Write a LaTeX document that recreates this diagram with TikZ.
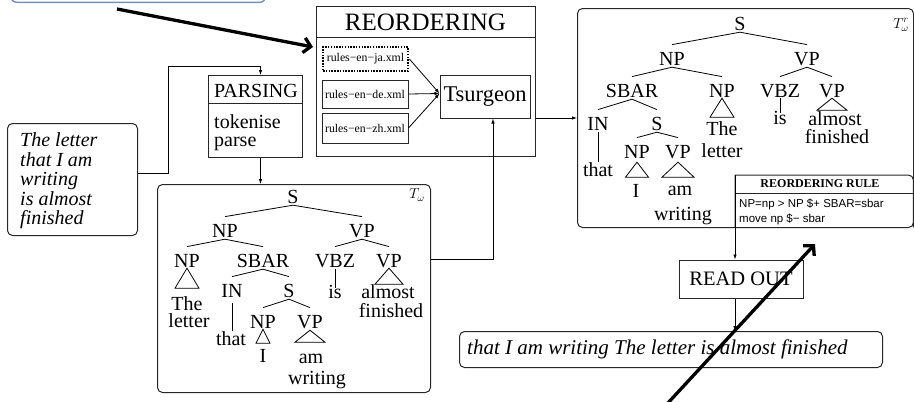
\documentclass[tikz,border=0pt]{standalone}
\usepackage{fontspec}
\setmainfont{Liberation Serif}
\newfontfamily\rulesans{Liberation Sans}
\usetikzlibrary{arrows.meta,calc}

\definecolor{calloutblue}{RGB}{112,146,190}

% branch from a parent category down to a child category
\newcommand\branch[2]{\draw[treeline] ([yshift=-2pt]#1.south) -- ([yshift=7pt]#2.north);}
% roof (triangle) under a category: node, gap below baseline, half width, height
\newcommand\roof[4]{\draw[treeline] ($(#1.south)+(0,#2)$) -- ++(-#3,#4) -- ++(2*#3,0) -- cycle;}

\begin{document}
\begin{tikzpicture}[x=1pt,y=-1pt,
  box/.style={draw=black!85, line width=1pt, inner sep=0pt},
  rbox/.style={box, rounded corners=5pt},
  cat/.style={font=\fontsize{20}{20}\selectfont, inner sep=0pt, text height=13.2pt, text depth=0pt, anchor=base},
  leaf/.style={font=\fontsize{20}{20}\selectfont, inner sep=0pt, anchor=base},
  treeline/.style={line width=0.8pt},
  link/.style={line width=0.8pt, -{Latex[length=5pt,width=3.5pt]}},
  pointer/.style={line width=3.3pt, -{Straight Barb[length=7pt,width=15pt]}},
]
\useasboundingbox (0,0) rectangle (914,402);
\begin{scope}
\clip (0,0) rectangle (914,402);

% callout frame running off the top edge
\node[draw=calloutblue, line width=1.4pt, rounded corners=6pt, minimum width=255pt,
      minimum height=30pt, anchor=south west, inner sep=0pt] (callout) at (10,3) {};

% ---------------- input sentence ----------------
\node[rbox, minimum width=130pt, minimum height=112pt, anchor=north west] (inbox) at (7,123) {};
\foreach \t [count=\i] in {The letter,that I am,writing,is almost,finished}{
  \node[font=\fontsize{20}{20}\selectfont\itshape, inner sep=0pt, anchor=base west]
    (inl\i) at (20,{127+19.5*\i}) {\t};
}

% ---------------- parsing ----------------
\node[box, minimum width=94pt, minimum height=82pt, anchor=north west] (parsing) at (208,75) {};
\draw[box] ($(parsing.north west)+(0,28)$) -- ($(parsing.north east)+(0,28)$);
\node[font=\fontsize{20}{20}\selectfont, inner sep=0pt] (parstitle) at (256,90.5) {PARSING};
\node[leaf, anchor=base west] (tok) at (214,128) {tokenise};
\node[leaf, anchor=base west] (prs) at (214,146) {parse};

% ---------------- reordering ----------------
\node[box, minimum width=219pt, minimum height=150pt, anchor=north west] (reord) at (316,6) {};
\draw[box] ($(reord.north west)+(0,31)$) -- ($(reord.north east)+(0,31)$);
\node[font=\fontsize{25}{25}\selectfont, inner sep=0pt] (reordtitle) at (425.5,22) {REORDERING};

\node[draw, line width=2.8pt, dash pattern=on 1.5pt off 1.3pt, minimum width=85pt, minimum height=24pt,
      inner sep=0pt, font=\fontsize{11.8}{12}\selectfont] (ja) at (365.5,59) {rules−en−ja.xml};
\node[box, minimum width=86pt, minimum height=28pt, font=\fontsize{11.8}{12}\selectfont] (de) at (365,94) {rules−en−de.xml};
\node[box, minimum width=86pt, minimum height=30pt, font=\fontsize{11.8}{12}\selectfont] (zh) at (365,128) {rules−en−zh.xml};

\node[box, minimum width=90pt, minimum height=43pt, font=\fontsize{22.5}{23}\selectfont] (ts) at (485,96.5) {Tsurgeon};

\draw[link] (ja.east) -- ([yshift=3pt]ts.west);
\draw[link] (de.east) -- ([yshift=3pt]ts.west);
\draw[link] (zh.east) -- ([yshift=3pt]ts.west);

% ---------------- parsed tree ----------------
\node[rbox, minimum width=273pt, minimum height=208pt, anchor=north west] (tw) at (157,184) {};
\node[font=\fontsize{14}{14}\selectfont, inner sep=0pt] (twlabel) at (417,195) {$T_{\omega}$};

\node[cat] (a-s) at (293,203) {S};
\node[cat] (a-np) at (225,237) {NP};
\node[cat] (a-vp) at (362,237) {VP};
\node[cat] (a-np2) at (187,267) {NP};
\node[cat] (a-sbar) at (263,267) {SBAR};
\node[cat] (a-vbz) at (335,267) {VBZ};
\node[cat] (a-vp2) at (389,267) {VP};
\node[cat] (a-in) at (232,297) {IN};
\node[cat] (a-s2) at (289,297) {S};
\node[cat] (a-np3) at (263,328) {NP};
\node[cat] (a-vp3) at (310,328) {VP};

\node[leaf] (a-the) at (187,310) {The};
\node[leaf] (a-letter) at (189,327) {letter};
\node[leaf] (a-that) at (231,345) {that};
\node[leaf] (a-i) at (263,362) {I};
\node[leaf] (a-am) at (311,363) {am};
\node[leaf] (a-writing) at (317,384) {writing};
\node[leaf] (a-is) at (335,298) {is};
\node[leaf] (a-almost) at (388,298) {almost};
\node[leaf] (a-finished) at (391,317) {finished};

\branch{a-s}{a-np}
\branch{a-s}{a-vp}
\branch{a-np}{a-np2}
\branch{a-np}{a-sbar}
\branch{a-vp}{a-vbz}
\branch{a-vp}{a-vp2}
\branch{a-sbar}{a-in}
\branch{a-sbar}{a-s2}
\branch{a-s2}{a-np3}
\branch{a-s2}{a-vp3}
\roof{a-np2}{1}{12}{20}
\roof{a-np3}{1}{7}{14}
\roof{a-vp3}{2}{15}{12}
\roof{a-vp2}{1}{14}{16}
\draw[treeline] ($(a-in.south)+(0,6)$) -- ($(a-that.north)+(1,0)$);
\draw[treeline] ($(a-vbz.south)+(0,2)$) -- ($(a-is.north)+(0,3)$);

% ---------------- reordered tree ----------------
\node[rbox, minimum width=336pt, minimum height=219pt, anchor=north west] (tr) at (577,8) {};
\node[font=\fontsize{14}{14}\selectfont, inner sep=0pt] (trlabel) at (901,25) {$T^{r}_{\omega}$};

\node[cat] (b-s) at (740,30) {S};
\node[cat] (b-np) at (672,65) {NP};
\node[cat] (b-vp) at (807,65) {VP};
\node[cat] (b-sbar) at (632,97) {SBAR};
\node[cat] (b-np2) at (722,97) {NP};
\node[cat] (b-vbz) at (780,97) {VBZ};
\node[cat] (b-vp2) at (832,97) {VP};
\node[cat] (b-in) at (598,130) {IN};
\node[cat] (b-s2) at (657,130) {S};
\node[cat] (b-np3) at (637,158) {NP};
\node[cat] (b-vp3) at (678,158) {VP};

\node[leaf] (b-that) at (598,176) {that};
\node[leaf] (b-i) at (636,197) {I};
\node[leaf] (b-am) at (680,195) {am};
\node[leaf] (b-writing) at (683,220) {writing};
\node[leaf] (b-the) at (722,135) {The};
\node[leaf] (b-letter) at (722,157) {letter};
\node[leaf] (b-is) at (780,124) {is};
\node[leaf] (b-almost) at (835,125) {almost};
\node[leaf] (b-finished) at (837,143) {finished};

\branch{b-s}{b-np}
\branch{b-s}{b-vp}
\branch{b-np}{b-sbar}
\branch{b-np}{b-np2}
\branch{b-vp}{b-vbz}
\branch{b-vp}{b-vp2}
\branch{b-sbar}{b-in}
\branch{b-sbar}{b-s2}
\branch{b-s2}{b-np3}
\branch{b-s2}{b-vp3}
\roof{b-np3}{4}{11.5}{15}
\roof{b-vp3}{4}{16}{15}
\roof{b-np2}{1}{12}{19}
\roof{b-vp2}{1}{15}{12}
\draw[treeline] ($(b-in.south)+(0,2)$) -- ($(b-that.north)+(0,0)$);
\draw[treeline] ($(b-vbz.south)+(0,1)$) -- ($(b-is.north)+(0,2)$);

% ---------------- reordering rule ----------------
\node[minimum width=178pt, minimum height=52pt, anchor=north west, inner sep=0pt] (rule) at (735,175) {};
\draw[box] (rule.south west) -- (rule.north west) [rounded corners=5pt] -- (rule.north east) -- (rule.south east);
\draw[box] ($(rule.north west)+(0,18)$) -- ($(rule.north east)+(0,18)$);
\node[font=\fontsize{12}{12}\selectfont\bfseries, inner sep=0pt] (ruletitle) at (820,184) {REORDERING RULE};
\node[font=\rulesans\fontsize{11.5}{12}\selectfont, inner sep=0pt, anchor=base west] (rule1) at (739,207) {NP=np > NP \$+ SBAR=sbar};
\node[font=\rulesans\fontsize{11.5}{12}\selectfont, inner sep=0pt, anchor=base west] (rule2) at (739,222) {move np \$− sbar};

% ---------------- read out ----------------
\node[box, minimum width=124pt, minimum height=38pt, font=\fontsize{20.5}{21}\selectfont] (readout) at (741,279) {READ OUT};
\node[rbox, minimum width=423pt, minimum height=36pt, anchor=north west] (sent) at (459,331) {};
\node[font=\fontsize{21}{21}\selectfont\itshape, inner sep=0pt, anchor=base west] (senttext) at (467,354)
  {that I am writing The letter is almost finished};

% ---------------- connectors ----------------
\coordinate (pin) at ($(parsing.north)+(5,0)$);
\coordinate (pout) at ($(parsing.south)+(5,0)$);
\coordinate (twout) at ($(tw.east)+(0,-29)$);
\coordinate (tsin) at ($(ts.south)+(8,0)$);
\coordinate (inout) at ($(inbox.east)+(0,-6)$);
\draw[link] (inout) -| (168,66) -| (pin);
\draw[link] (pout) -- (pout |- tw.north);
\draw[link] (twout) -| (tsin);
\draw[link] (reord.east |- tr.west) -- (tr.west);
\draw[link] (rule.north west) -- (rule.north west |- readout.north);
\draw[link] (rule.north west |- readout.south) -- (rule.north west |- sent.north);

% ---------------- heavy pointers ----------------
\coordinate (p1from) at (117,9);
\coordinate (p1to) at (313,47);
\draw[pointer] (p1from) -- (p1to);
\coordinate (p2from) at (667,404);
\coordinate (p2to) at (815,244);
\draw[pointer] (p2from) -- (p2to);
\end{scope}
\end{tikzpicture}
\end{document}
